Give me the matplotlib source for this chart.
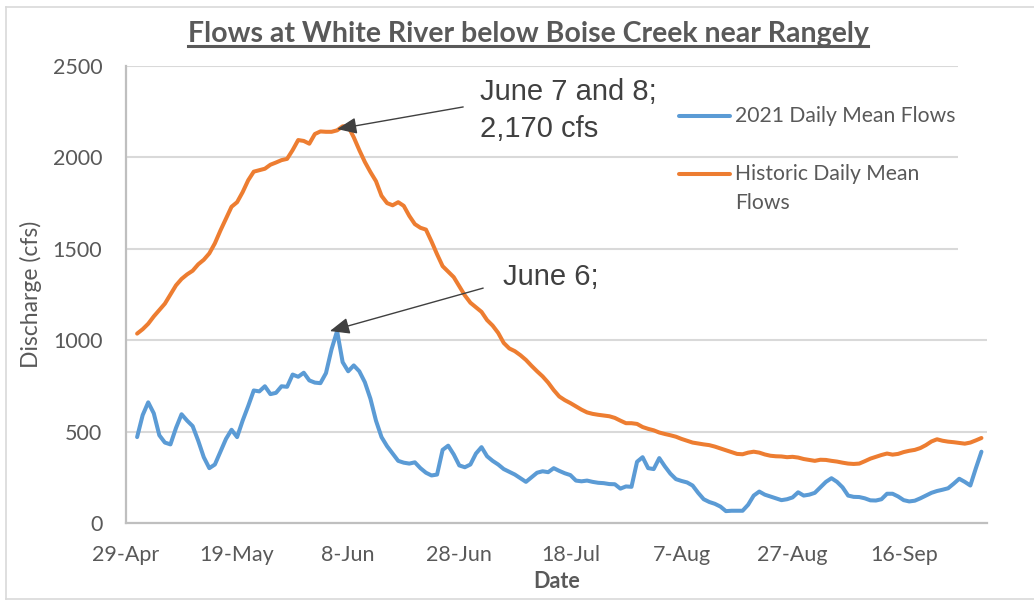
import matplotlib
matplotlib.use("Agg")
import matplotlib.pyplot as plt
import matplotlib.dates as mdates
from matplotlib.lines import Line2D
from matplotlib.patches import Rectangle
from matplotlib.ticker import FuncFormatter
import pandas as pd

# ---------------- data ----------------
dates = pd.date_range("2021-05-01", "2021-09-30", freq="D")

flows_2021 = [
    470, 590, 660, 600, 480, 440, 430, 520, 595, 560,
    530, 450, 360, 300, 320, 390, 460, 510, 470, 560,
    640, 725, 720, 748, 705, 712, 748, 745, 812, 800,
    822, 780, 768, 765, 820, 950, 1050, 880, 830, 862,
    830, 770, 680, 560, 470, 420, 380, 340, 330, 325,
    332, 300, 275, 260, 265, 400, 423, 375, 315, 305,
    320, 380, 415, 365, 340, 320, 295, 280, 265, 245,
    225, 250, 275, 283, 278, 300, 285, 272, 262, 232,
    228, 232, 225, 220, 218, 213, 212, 188, 200, 198,
    335, 360, 300, 295, 355, 310, 270, 240, 230, 222,
    205, 165, 130, 115, 105, 90, 65, 67, 67, 67,
    100, 150, 172, 155, 145, 135, 125, 130, 140, 168,
    150, 155, 165, 195, 225, 245, 225, 195, 150, 143,
    142, 135, 124, 123, 130, 160, 160, 145, 125, 118,
    122, 135, 150, 165, 175, 182, 190, 215, 242, 225,
    205, 300, 390,
]

flows_hist = [
    1036, 1060, 1090, 1130, 1165, 1200, 1250, 1300, 1335, 1360,
    1380, 1415, 1440, 1475, 1530, 1600, 1665, 1730, 1755, 1810,
    1875, 1922, 1930, 1938, 1960, 1972, 1985, 1992, 2040, 2095,
    2090, 2075, 2128, 2142, 2140, 2140, 2148, 2170, 2170, 2110,
    2040, 1975, 1920, 1870, 1790, 1750, 1738, 1755, 1735, 1680,
    1635, 1615, 1605, 1540, 1470, 1405, 1375, 1345, 1295, 1245,
    1205, 1180, 1155, 1110, 1080, 1040, 985, 955, 940, 918,
    892, 860, 830, 802, 768, 727, 692, 672, 656, 638,
    620, 605, 597, 592, 588, 584, 575, 560, 546, 546,
    542, 525, 515, 507, 495, 487, 480, 472, 460, 450,
    440, 435, 430, 426, 418, 408, 398, 388, 378, 376,
    385, 390, 385, 375, 368, 365, 364, 360, 362, 358,
    350, 345, 340, 346, 345, 340, 336, 330, 325, 323,
    325, 338, 352, 362, 372, 380, 374, 378, 388, 395,
    400, 410, 426, 446, 458, 450, 445, 442, 438, 434,
    440, 452, 465,
]

series_labels = ["2021 Daily Mean Flows", ["Historic Daily Mean", "Flows"]]
title_text = "Flows at White River below Boise Creek near Rangely"
x_label = "Date"
y_label = "Discharge (cfs)"
y_ticks = [0, 500, 1000, 1500, 2000, 2500]
x_tick_dates = pd.date_range("2021-04-29", periods=8, freq="20D")
annot_peak_hist = ["June 7 and 8;", "2,170 cfs"]
annot_peak_2021 = "June 6;"

# ---------------- style ----------------
BLUE = "#5B9BD5"
ORANGE = "#ED7D31"
GREY_TXT = "#595959"
DARK_TXT = "#404040"
GRID = "#D9D9D9"
AXIS = "#BFBFBF"
FONT = ["Lato", "DejaVu Sans"]
ANN_FONT = ["Liberation Sans", "DejaVu Sans"]

W, H = 1034, 601
fig = plt.figure(figsize=(W / 100, H / 100), dpi=100)
fig.patch.set_facecolor("white")

def fx(px):
    return px / W

def fy(py):
    return 1 - py / H

ax = fig.add_axes([fx(126), fy(523), fx(987) - fx(126), fy(66) - fy(523)])

ax.plot(dates, flows_2021, color=BLUE, lw=2.9, solid_joinstyle="round",
        solid_capstyle="round", zorder=3)
ax.plot(dates, flows_hist, color=ORANGE, lw=2.9, solid_joinstyle="round",
        solid_capstyle="round", zorder=3)

x0 = pd.Timestamp("2021-04-29")
ax.set_xlim(x0, x0 + pd.Timedelta(days=155))
ax.set_ylim(0, 2500)
ax.set_yticks(y_ticks)
ax.set_xticks(x_tick_dates)
ax.xaxis.set_major_formatter(FuncFormatter(
    lambda v, p: (lambda d: f"{d.day}-{d.strftime('%b')}")(mdates.num2date(v))))
ax.yaxis.set_major_formatter(FuncFormatter(lambda v, p: f"{int(v)}"))

ax.grid(axis="y", color=GRID, lw=1.5, zorder=0)
ax.set_axisbelow(True)
for s in ["top", "right"]:
    ax.spines[s].set_visible(False)
for s in ["left", "bottom"]:
    ax.spines[s].set_color(AXIS)
    ax.spines[s].set_linewidth(1.6)

ax.tick_params(axis="both", length=0, labelsize=15.5, labelcolor=GREY_TXT)
ax.tick_params(axis="y", pad=17)
ax.tick_params(axis="x", pad=16)
for lab in ax.get_xticklabels() + ax.get_yticklabels():
    lab.set_fontfamily(FONT)

ax.set_xlabel(x_label, fontsize=15.5, fontweight="bold", color=GREY_TXT,
              family=FONT, labelpad=4)
ax.set_ylabel(y_label, fontsize=16.5, color=GREY_TXT, family=FONT, labelpad=8)

# annotations
def day(offset):
    return x0 + pd.Timedelta(days=offset)

arrow_kw = dict(arrowstyle="-|>,head_length=0.6,head_width=0.25",
                color=DARK_TXT, lw=1.0, mutation_scale=20,
                shrinkA=0, shrinkB=0)
ax.annotate("", xy=(day(38.0), 2155), xytext=(day(60.7), 2276),
            arrowprops=arrow_kw, zorder=5)
ax.annotate("", xy=(day(36.7), 1050), xytext=(day(64.3), 1285),
            arrowprops=arrow_kw, zorder=5)

ax.text(day(63.7), 2314, annot_peak_hist[0], fontsize=21, color=DARK_TXT,
        family=ANN_FONT, va="baseline", ha="left", zorder=6)
ax.text(day(63.7), 2111, annot_peak_hist[1], fontsize=21, color=DARK_TXT,
        family=ANN_FONT, va="baseline", ha="left", zorder=6)
ax.text(day(67.9), 1302, annot_peak_2021, fontsize=21, color=DARK_TXT,
        family=ANN_FONT, va="baseline", ha="left", zorder=6)

# white patch where the legend box hides the grid on the right
fig.add_artist(Rectangle((fx(958), fy(258)), fx(992) - fx(958), fy(60) - fy(258),
                         transform=fig.transFigure, facecolor="white",
                         edgecolor="none", zorder=2))

# legend (manual)
leg_items = [(BLUE, [series_labels[0]], 116), (ORANGE, series_labels[1], 174)]
for col, lines, ypx in leg_items:
    fig.add_artist(Line2D([fx(679), fx(730)], [fy(ypx), fy(ypx)], color=col,
                          lw=2.9, solid_capstyle="round",
                          transform=fig.transFigure, zorder=4))
    for k, line in enumerate(lines):
        fig.text(fx(735), fy(ypx + 29 * k), line, fontsize=15.2, color=GREY_TXT,
                 family=FONT, ha="left", va="center", zorder=4)

# title with underline
t = fig.text(fx(528), fy(42), title_text, fontsize=20.5, fontweight="bold",
             color=GREY_TXT, family=FONT, ha="center", va="baseline")
fig.canvas.draw()
bb = t.get_window_extent(renderer=fig.canvas.get_renderer())
fig.add_artist(Line2D([bb.x0 / W, bb.x1 / W], [fy(46), fy(46)], color=GREY_TXT,
                      lw=2.2, transform=fig.transFigure))

# chart border
for xs, ys in [((6, 6), (7, 599)), ((6, 1034), (7, 7)), ((6, 1034), (599, 599))]:
    fig.add_artist(Line2D([fx(xs[0]), fx(xs[1])], [fy(ys[0]), fy(ys[1])],
                          color=GRID, lw=1.2, transform=fig.transFigure))

fig.savefig("out.png", dpi=100, facecolor="white")
